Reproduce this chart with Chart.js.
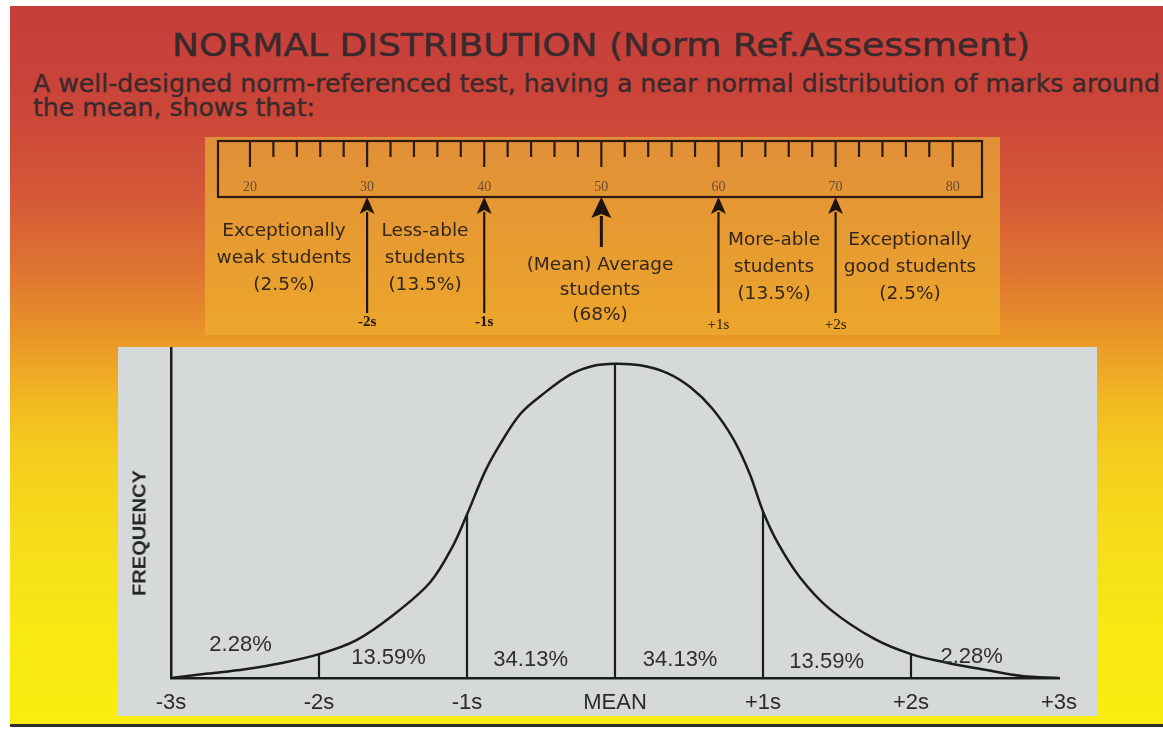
<!DOCTYPE html>
<html>
<head>
<meta charset="utf-8">
<script src="https://cdn.jsdelivr.net/npm/chart.js@4.4.1/dist/chart.umd.min.js"></script>
<style>
html,body{margin:0;padding:0;background:#fff;width:1163px;height:731px;overflow:hidden;position:relative;}
#bg{position:absolute;left:10px;top:6px;width:1153px;height:719px;
 background:linear-gradient(to bottom,#c63e3b 0px,#cb4539 100px,#d45837 190px,#df7731 270px,#ea9828 335px,#f2b822 395px,#f5cc1e 445px,#f6de18 540px,#f8ea12 640px,#f8ec10 719px);}
#bottomline{position:absolute;left:10px;top:724px;width:1153px;height:3px;background:#2e2e2e;}
#obox{position:absolute;left:205px;top:137px;width:795px;height:198px;background:linear-gradient(to bottom,#e18f38,#e89d30 60%,#eca62c);}
#rulerWrap{position:absolute;left:205px;top:137px;width:795px;height:198px;}
#mainWrap{position:absolute;left:118px;top:347px;width:979px;height:369px;background:#d6d9d9;}
.t{position:absolute;white-space:nowrap;line-height:1;transform-origin:left center;}
canvas{display:block;}
</style>
</head>
<body>
<div id="bg"></div>
<div id="bottomline"></div>
<div id="obox"></div>
<div id="rulerWrap"><canvas id="ruler" width="795" height="198"></canvas></div>
<div id="mainWrap"><canvas id="main" width="979" height="369"></canvas></div>
<script>
// ---------------- DATA ----------------
// Normal curve (x in standard deviations, y = relative frequency, peak = 100)
const curveX = [-3, -2.75, -2.5, -2.25, -2, -1.75, -1.5, -1.25, -1.1, -1, -0.88, -0.78, -0.64, -0.49, -0.3, -0.15, 0, 0.17, 0.35, 0.51, 0.66, 0.8, 0.91, 1, 1.1, 1.25, 1.45, 1.75, 2, 2.25, 2.5, 2.75, 3];
const curveY = [0, 1.4, 2.8, 4.8, 7.6, 12, 20, 30.4, 41.6, 52, 65.5, 74.1, 84, 90.2, 96.6, 99.3, 100, 99.5, 97.1, 92.5, 85.6, 76, 65, 53, 43, 32, 22, 12.5, 7.6, 4.8, 2.6, 0.6, 0];
// Axis categories
const sigmaValues = [-3, -2, -1, 0, 1, 2, 3];
const sigmaLabels = ['-3s', '-2s', '-1s', 'MEAN', '+1s', '+2s', '+3s'];
// Divider lines drawn up to the curve
const dividerValues = [-2, -1, 0, 1, 2];
// Area percentages
const areaLabels = ['2.28%', '13.59%', '34.13%', '34.13%', '13.59%', '2.28%'];
// Ruler (marks) scale
const rulerLabels = [20, 30, 40, 50, 60, 70, 80];
const rulerMinorStep = 2;
const arrowMarks = [30, 40, 50, 60, 70];
const arrowSigma = ['-2s', '-1s', '', '+1s', '+2s'];
const groupTexts = [
  ['Exceptionally', 'weak students', '(2.5%)'],
  ['Less-able', 'students', '(13.5%)'],
  ['(Mean) Average', 'students', '(68%)'],
  ['More-able', 'students', '(13.5%)'],
  ['Exceptionally', 'good students', '(2.5%)']
];

// ---------------- LAYOUT (not data) ----------------
const areaLabelAnchors = [[-2.53, 10.6], [-1.53, 6.4], [-0.57, 5.8], [0.44, 5.6], [1.43, 5.0], [2.41, 6.8]];
const groupLayout = [
  {cx: 284, ys: [230, 257, 284]},
  {cx: 425, ys: [230, 257, 284]},
  {cx: 600, ys: [264, 289, 314]},
  {cx: 774, ys: [239, 266, 293]},
  {cx: 910, ys: [239, 266, 293]}
];

function addText(txt, x, cy, size, o) {
  const d = document.createElement('div');
  d.className = 't';
  d.textContent = txt;
  d.style.fontFamily = o.family;
  d.style.fontSize = size + 'px';
  d.style.fontWeight = o.weight || 'normal';
  d.style.color = o.color || '#222';
  if (o.stroke) d.style.webkitTextStroke = o.stroke;
  d.style.top = (cy - size / 2) + 'px';
  document.body.appendChild(d);
  const w = d.getBoundingClientRect().width;
  const k = o.width ? o.width / w : 1;
  const fw = w * k;
  d.style.left = (o.align === 'center' ? x - fw / 2 : x) + 'px';
  if (k !== 1) d.style.transform = 'scaleX(' + k + ')';
  return d;
}

// Title & subtitle
addText('NORMAL DISTRIBUTION (Norm Ref.Assessment)', 172, 45, 32, {family: '"DejaVu Sans"', color: '#3a2a2c', width: 858, stroke: '0.5px #3a2a2c'});
addText('A well-designed norm-referenced test, having a near normal distribution of marks around', 33, 84, 24, {family: '"DejaVu Sans"', color: '#3a2a2c', width: 1127, stroke: '0.4px #3a2a2c'});
addText('the mean, shows that:', 33, 108, 24, {family: '"DejaVu Sans"', color: '#3a2a2c', width: 282, stroke: '0.4px #3a2a2c'});

// Group labels under ruler
groupTexts.forEach((lines, gi) => {
  lines.forEach((ln, li) => {
    addText(ln, groupLayout[gi].cx, groupLayout[gi].ys[li], 18.5, {family: '"DejaVu Sans"', color: '#33261c', align: 'center'});
  });
});

// FREQUENCY axis title
(function () {
  const d = document.createElement('div');
  d.className = 't';
  d.textContent = 'FREQUENCY';
  d.style.font = 'bold 18px "Liberation Sans"';
  d.style.color = '#262626';
  document.body.appendChild(d);
  const w = d.getBoundingClientRect().width;
  const k = 126 / w;
  d.style.left = '140px';
  d.style.top = '533px';
  d.style.transformOrigin = 'center center';
  d.style.transform = 'translate(-50%,-50%) rotate(-90deg) scale(' + k + ',1)';
})();

// ---------------- RULER CHART ----------------
const rulerPlugin = {
  id: 'rulerDraw',
  afterDraw(chart) {
    const ctx = chart.ctx, xs = chart.scales.x, ca = chart.chartArea;
    const top = 4, bottom = 60;
    ctx.save();
    ctx.strokeStyle = '#2b1a10';
    ctx.fillStyle = '#2b1a10';
    ctx.lineWidth = 2.2;
    ctx.strokeRect(ca.left, top, ca.right - ca.left, bottom - top);
    const lo = rulerLabels[0], hi = rulerLabels[rulerLabels.length - 1];
    for (let v = lo; v <= hi; v += rulerMinorStep) {
      const px = xs.getPixelForValue(v);
      const major = rulerLabels.includes(v);
      ctx.beginPath();
      ctx.moveTo(px, top);
      ctx.lineTo(px, major ? 30 : 20);
      ctx.stroke();
    }
    ctx.font = '14px "Liberation Serif"';
    ctx.fillStyle = '#6b4b33';
    ctx.textAlign = 'center';
    ctx.textBaseline = 'middle';
    rulerLabels.forEach(v => ctx.fillText(String(v), xs.getPixelForValue(v), 50));
    // arrows
    ctx.fillStyle = '#1e140c';
    ctx.strokeStyle = '#1e140c';
    arrowMarks.forEach((v, i) => {
      const px = xs.getPixelForValue(v);
      const isMean = arrowSigma[i] === '';
      const hw = isMean ? 10 : 7.5, hh = isMean ? 21 : 17, end = isMean ? 110 : 176;
      ctx.lineWidth = isMean ? 3 : 2.2;
      ctx.beginPath();
      ctx.moveTo(px, bottom + hh - 2);
      ctx.lineTo(px, end);
      ctx.stroke();
      ctx.beginPath();
      ctx.moveTo(px, bottom);
      ctx.lineTo(px - hw, bottom + hh);
      ctx.lineTo(px, bottom + hh - 4);
      ctx.lineTo(px + hw, bottom + hh);
      ctx.closePath();
      ctx.fill();
      if (!isMean) {
        const bold = arrowSigma[i].startsWith('-');
        ctx.font = (bold ? 'bold ' : '') + '15px "Liberation Serif"';
        ctx.fillStyle = '#1e140c';
        ctx.fillText(arrowSigma[i], px, bold ? 185 : 188);
      }
    });
    ctx.restore();
  }
};

new Chart(document.getElementById('ruler'), {
  type: 'scatter',
  data: {datasets: []},
  options: {
    responsive: false, animation: false, events: [],
    layout: {padding: {left: 13, right: 18, top: 0, bottom: 0}},
    plugins: {legend: {display: false}, tooltip: {enabled: false}},
    scales: {
      x: {type: 'linear', min: 17.27, max: 82.5, display: false},
      y: {type: 'linear', min: 0, max: 1, display: false}
    }
  },
  plugins: [rulerPlugin]
});

// ---------------- MAIN CHART ----------------
function curveAt(s) { return curveY[curveX.indexOf(s)]; }

const areaPlugin = {
  id: 'areaLabels',
  afterDatasetsDraw(chart) {
    const ctx = chart.ctx, xs = chart.scales.x, ys = chart.scales.y;
    ctx.save();
    ctx.font = '22px "Liberation Sans"';
    ctx.fillStyle = '#2e2e2e';
    ctx.textAlign = 'center';
    ctx.textBaseline = 'middle';
    areaLabels.forEach((t, i) => {
      ctx.fillText(t, xs.getPixelForValue(areaLabelAnchors[i][0]), ys.getPixelForValue(areaLabelAnchors[i][1]));
    });
    ctx.restore();
  }
};

const datasets = [{
  label: 'Frequency',
  data: curveX.map((x, i) => ({x: x, y: curveY[i]})),
  borderColor: '#1c1c1c',
  borderWidth: 2.5,
  pointRadius: 0,
  tension: 0.35,
  fill: false
}].concat(dividerValues.map(s => ({
  label: 'div' + s,
  data: [{x: s, y: 0}, {x: s, y: curveAt(s)}],
  borderColor: '#1c1c1c',
  borderWidth: 2.2,
  pointRadius: 0,
  fill: false
})));

new Chart(document.getElementById('main'), {
  type: 'line',
  data: {datasets: datasets},
  options: {
    responsive: false, animation: false, events: [],
    layout: {padding: {left: 0, right: 38, top: 1, bottom: 0}},
    plugins: {legend: {display: false}, tooltip: {enabled: false}},
    scales: {
      x: {
        type: 'linear', min: -3, max: 3,
        afterBuildTicks: s => { s.ticks = sigmaValues.map(v => ({value: v})); },
        ticks: {autoSkip: false, maxRotation: 0, minRotation: 0, padding: 12,
          font: {family: '"Liberation Sans"', size: 22}, color: '#2a2a2a',
          callback: (v) => sigmaLabels[sigmaValues.indexOf(v)]},
        grid: {display: false, drawTicks: false},
        border: {display: true, color: '#1c1c1c', width: 2.5},
        afterFit: s => { s.height = 38; }
      },
      y: {
        type: 'linear', min: 0, max: 105,
        ticks: {display: false},
        grid: {display: false, drawTicks: false},
        border: {display: true, color: '#1c1c1c', width: 2.5},
        afterFit: s => { s.width = 53; }
      }
    }
  },
  plugins: [areaPlugin]
});
</script>
</body>
</html>
